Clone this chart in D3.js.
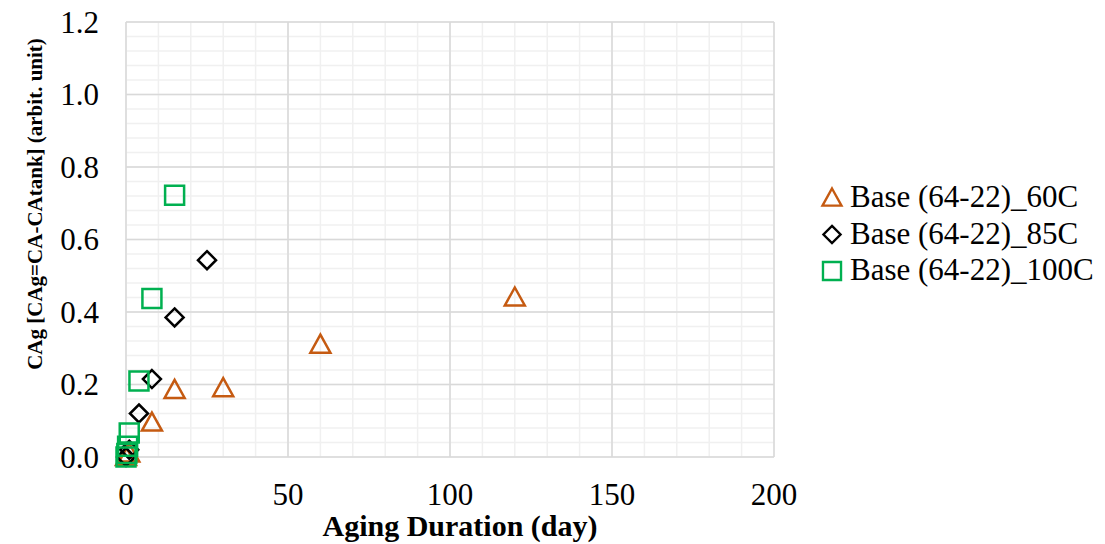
<!DOCTYPE html>
<html><head><meta charset="utf-8">
<script src="https://cdn.jsdelivr.net/npm/d3@7"></script>
<style>body{margin:0;background:#fff}svg{display:block}</style>
</head><body><svg id="c" width="1105" height="544"></svg>
<script>
const seriesNames = ["Base (64-22)_60C", "Base (64-22)_85C", "Base (64-22)_100C"];
const days60 = [0, 1, 8, 15, 30, 60, 120];
const vals60 = [0.0, 0.01, 0.095, 0.185, 0.19, 0.31, 0.44];
const days85 = [0, 1, 4, 8, 15, 25];
const vals85 = [0.0, 0.02, 0.12, 0.215, 0.385, 0.543];
const days100 = [0, 0.25, 0.5, 1, 4, 8, 15];
const vals100 = [0.0, 0.01, 0.03, 0.066, 0.21, 0.437, 0.722];
const xTicks = [0, 50, 100, 150, 200];
const yTicks = [0.0, 0.2, 0.4, 0.6, 0.8, 1.0, 1.2];

const svg = d3.select("#c");
const L = 126, R = 774, T = 22, B = 457;
const x = d3.scaleLinear().domain([0, 200]).range([L, R]);
const y = d3.scaleLinear().domain([0, 1.2]).range([B, T]);

const g = svg.append("g");
g.selectAll(".mx").data(d3.range(0, 201, 10)).join("line")
  .attr("x1", d => x(d)).attr("x2", d => x(d)).attr("y1", T).attr("y2", B)
  .attr("stroke", "#f0f0f0").attr("stroke-width", 1.5);
g.selectAll(".my").data(d3.range(0, 31).map(i => i * 0.04)).join("line")
  .attr("y1", d => y(d)).attr("y2", d => y(d)).attr("x1", L).attr("x2", R)
  .attr("stroke", "#f0f0f0").attr("stroke-width", 1.5);
g.selectAll(".Mx").data(xTicks).join("line")
  .attr("x1", d => x(d)).attr("x2", d => x(d)).attr("y1", T).attr("y2", B)
  .attr("stroke", "#d9d9d9").attr("stroke-width", 1.5);
g.selectAll(".My").data(yTicks).join("line")
  .attr("y1", d => y(d)).attr("y2", d => y(d)).attr("x1", L).attr("x2", R)
  .attr("stroke", "#d9d9d9").attr("stroke-width", 1.5);

svg.append("g").selectAll("text").data(xTicks).join("text")
  .attr("x", d => x(d)).attr("y", 505).attr("text-anchor", "middle")
  .attr("font-size", 31).style("font-family", "'Liberation Serif'")
  .text(d => d3.format("d")(d));
svg.append("g").selectAll("text").data(yTicks).join("text")
  .attr("x", L - 27).attr("y", d => y(d) + 10.5).attr("text-anchor", "end")
  .attr("font-size", 31).style("font-family", "'Liberation Serif'")
  .text(d => d3.format(".1f")(d));

svg.append("text").attr("x", 460).attr("y", 536).attr("text-anchor", "middle")
  .attr("font-size", 30).attr("font-weight", "bold").style("font-family", "'Liberation Serif'")
  .text("Aging Duration (day)");
svg.append("text").attr("transform", "translate(42,204) rotate(-90)").attr("text-anchor", "middle")
  .attr("font-size", 21).attr("font-weight", "bold").style("font-family", "'Liberation Serif'")
  .text("CAg [CAg=CA-CAtank] (arbit. unit)");

const colors = ["#C55A11", "#000000", "#00B050"];
const triangle = "M0,-10L10,8L-10,8Z";
const diamond = "M0,-9L9,0L0,9L-9,0Z";
const square = "M-9.5,-9.5H9.5V9.5H-9.5Z";
const shapes = [triangle, diamond, square];

const datasets = [
  days60.map((d, i) => [d, vals60[i]]),
  days85.map((d, i) => [d, vals85[i]]),
  days100.map((d, i) => [d, vals100[i]])
];
datasets.forEach((ds, k) => {
  svg.append("g").selectAll("path").data(ds).join("path")
    .attr("d", shapes[k])
    .attr("transform", d => `translate(${x(d[0])},${y(d[1])})`)
    .attr("fill", "none").attr("stroke", colors[k]).attr("stroke-width", 2.5);
});

seriesNames.forEach((n, k) => {
  const base = 207 + k * 36.5;
  svg.append("path").attr("d", shapes[k]).attr("transform", `translate(832,${base - 9}) scale(0.95)`)
    .attr("fill", "none").attr("stroke", colors[k]).attr("stroke-width", 2.5);
  svg.append("text").attr("x", 850).attr("y", base).attr("font-size", 31)
    .style("font-family", "'Liberation Serif'").text(n);
});
</script></body></html>
